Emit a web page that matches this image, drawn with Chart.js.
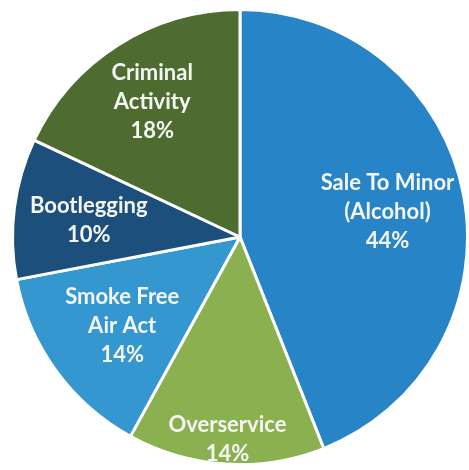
<!DOCTYPE html>
<html>
<head>
<meta charset="utf-8">
<script src="https://cdn.jsdelivr.net/npm/chart.js@4"></script>
<style>
  html, body { margin: 0; padding: 0; background: #fff; overflow: hidden; }
  #wrap { width: 469px; height: 470px; position: relative; }
</style>
</head>
<body>
<div id="wrap"><canvas id="pie"></canvas></div>
<script>
// chart data
const categories = ['Sale To Minor (Alcohol)', 'Overservice', 'Smoke Free Air Act', 'Bootlegging', 'Criminal Activity']
const labelLines = [['Sale To Minor', '(Alcohol)'], ['Overservice'], ['Smoke Free', 'Air Act'], ['Bootlegging'], ['Criminal', 'Activity']]
const percents = [44, 14, 14, 10, 18]

const sliceColors = ['#2784c6', '#8bb04f', '#3497cf', '#1c4f7c', '#4e6c2f']
// how far out (fraction of radius) each label sits
const labelRadius = [0.66, 0.88, 0.64, 0.67, 0.72]

const insideLabels = {
  id: 'insideLabels',
  afterDatasetsDraw(chart) {
    const ctx = chart.ctx
    const meta = chart.getDatasetMeta(0)
    ctx.save()
    ctx.fillStyle = '#f4f6f4'
    ctx.font = 'bold 22px Lato, sans-serif'
    ctx.textAlign = 'center'
    ctx.textBaseline = 'middle'
    const lineH = 29
    meta.data.forEach((arc, i) => {
      const mid = (arc.startAngle + arc.endAngle) / 2
      const r = arc.outerRadius * labelRadius[i]
      const cx = arc.x + Math.cos(mid) * r
      const cy = arc.y + Math.sin(mid) * r + 3
      const lines = [...labelLines[i], percents[i] + '%']
      const top = cy - (lines.length - 1) * lineH / 2
      lines.forEach((t, k) => ctx.fillText(t, cx, top + k * lineH))
    })
    ctx.restore()
  }
}

new Chart(document.getElementById('pie'), {
  type: 'pie',
  data: {
    labels: categories,
    datasets: [{
      data: percents,
      backgroundColor: sliceColors,
      borderColor: '#ffffff',
      borderWidth: 3
    }]
  },
  options: {
    responsive: true,
    maintainAspectRatio: false,
    animation: false,
    layout: { padding: { left: 11, right: 0, top: 8, bottom: 4 } },
    plugins: {
      legend: { display: false },
      tooltip: { enabled: false }
    }
  },
  plugins: [insideLabels]
})
</script>
</body>
</html>
